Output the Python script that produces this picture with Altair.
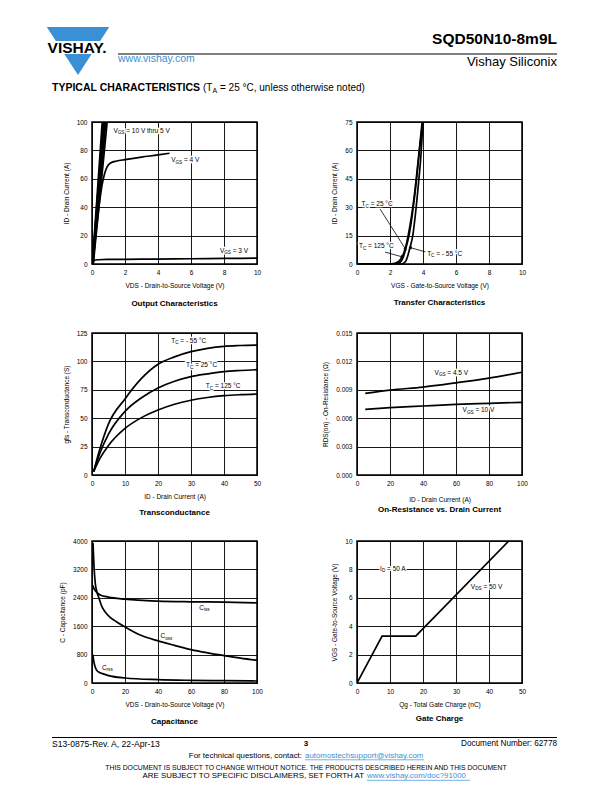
import math
import altair as alt
import pandas as pd

FONT = "Liberation Sans"
BLUE = "#3b8fd5"

# ---------------- values ----------------
# Output characteristics
out_hi_names = ["10 V", "9 V", "8 V", "7 V", "6 V", "5 V"]
out_hi_vds_start = [0.02, 0.03, 0.04, 0.05, 0.06, 0.08]
out_hi_vds_at_100a = [0.62, 0.67, 0.72, 0.78, 0.84, 0.92]
out_4v_vds = [0, 0.2, 0.4, 0.6, 0.75, 0.9, 1.1, 1.5, 2, 3, 4, 4.7]
out_4v_id = [0, 18, 38, 55, 63, 68, 71, 72.5, 73.5, 75.3, 76.8, 78]
out_3v_vds = [0, 0.1, 0.2, 0.4, 1, 2, 4, 6, 8, 10]
out_3v_id = [0, 2.0, 2.8, 3.0, 3.2, 3.3, 3.5, 3.7, 3.9, 4.1]
out_lab_base = ["V", "V", "V"]
out_lab_sub = ["GS", "GS", "GS"]
out_lab_rest = ["= 10 V thru 5 V", "= 4 V", "= 3 V"]
out_lab_x = [1.3, 4.8, 7.75]
out_lab_y = [93.5, 73, 9]

# Transfer characteristics
tr_125_vgs = [0, 1.9, 2.3, 2.55, 2.75, 2.95, 3.1, 3.3, 3.5, 3.7, 3.95]
tr_125_id = [0, 0, 0.4, 1.5, 4, 9, 15, 25, 38, 54, 75]
tr_25_vgs = [0, 2.35, 2.6, 2.8, 2.95, 3.15, 3.35, 3.55, 3.75, 3.97]
tr_25_id = [0, 0, 0.8, 3.5, 8, 15, 26, 40, 57, 75]
tr_m55_vgs = [0, 2.7, 2.95, 3.1, 3.22, 3.38, 3.55, 3.72, 3.88, 4.0]
tr_m55_id = [0, 0, 1.5, 5, 9, 15, 27, 42, 58, 75]
tr_lab_base = ["T", "T", "T"]
tr_lab_sub = ["C", "C", "C"]
tr_lab_rest = ["= 25 °C", "= 125 °C", "= - 55 °C"]
tr_lab_x = [0.28, 0.12, 4.25]
tr_lab_y = [31.5, 9.3, 5.3]
tr_arrow_x1 = [1.4, 1.7, 4.15]
tr_arrow_y1 = [29, 6.3, 6.4]
tr_arrow_x2 = [2.93, 2.72, 3.25]
tr_arrow_y2 = [8, 3.8, 8.6]

# Transconductance
gfs_id = [0.5, 2.5, 5, 10, 15, 20, 25, 30, 35, 40, 45, 50]
gfs_m55 = [3, 24, 45, 67, 85, 97.5, 104, 108.6, 111.5, 113.3, 114, 114.4]
gfs_25 = [3, 20, 36, 56, 68, 76.6, 82.5, 86.6, 89, 91, 92, 92.7]
gfs_125 = [3, 15, 26, 41, 50.5, 57.2, 62.3, 65.8, 68.2, 69.8, 70.7, 71.3]
gfs_lab_base = ["T", "T", "T"]
gfs_lab_sub = ["C", "C", "C"]
gfs_lab_rest = ["= - 55 °C", "= 25 °C", "= 125 °C"]
gfs_lab_x = [24, 28.5, 34.5]
gfs_lab_y = [118, 96.5, 78]

# On-resistance vs drain current
ron_id = [5, 20, 40, 60, 80, 100]
ron_45v = [0.00862, 0.00897, 0.00929, 0.00974, 0.01023, 0.01086]
ron_10v = [0.00694, 0.00711, 0.00729, 0.00746, 0.00757, 0.00768]
ron_lab_base = ["V", "V"]
ron_lab_sub = ["GS", "GS"]
ron_lab_rest = ["= 4.5 V", "= 10 V"]
ron_lab_x = [47, 64]
ron_lab_y = [0.01075, 0.00683]

# Capacitance
ciss_vds = [0.5, 1, 2, 5, 10, 20, 40, 60, 80, 100]
ciss_pf = [2750, 2680, 2600, 2480, 2420, 2362, 2306, 2287, 2278, 2259]
coss_vds = [0.6, 1.2, 2, 3, 4, 6, 8, 11, 15, 20, 30, 40, 50, 60, 70, 80, 90, 100]
coss_pf = [3950, 3300, 2800, 2560, 2420, 2150, 2000, 1850, 1720, 1580, 1336, 1186,
           1060, 941, 850, 772, 700, 640]
crss_vds = [0.5, 1.2, 2.6, 4, 6.7, 10, 20, 40, 60, 80, 100]
crss_pf = [800, 580, 380, 310, 260, 207, 141, 94, 75, 66, 56]
cap_lab_base = ["C", "C", "C"]
cap_lab_sub = ["iss", "oss", "rss"]
cap_lab_rest = ["", "", ""]
cap_lab_x = [65, 41.5, 6]
cap_lab_y = [2110, 1310, 420]

# Gate charge
qg_nc = [0, 7.6, 17.8, 46]
qg_vgs = [0, 3.3, 3.3, 10]
qg_lab_base = ["I", "V"]
qg_lab_sub = ["D", "DS"]
qg_lab_rest = ["= 50 A", "= 50 V"]
qg_lab_x = [7, 34.5]
qg_lab_y = [8.05, 6.75]

# ---------------- helpers ----------------
ONE = pd.DataFrame({"a": [0]})
LAB = 6.5
SUB = 4.6
CHAR_W = {" ": .278, "(": .333, ")": .333, "-": .333, ".": .278, "=": .584, "°": .4,
          "A": .667, "C": .722, "D": .722, "G": .778, "I": .278, "S": .667, "T": .611,
          "V": .667, "a": .556, "c": .5, "h": .556, "i": .222, "n": .556, "o": .556,
          "r": .333, "s": .5, "t": .278, "u": .556}


def tw(s, size):
    return sum(CHAR_W.get(c, .556) for c in s) * size


def series_df(named):
    rows = []
    for name, xs, ys in named:
        for x, y in zip(xs, ys):
            rows.append({"x": x, "y": y, "s": name})
    return pd.DataFrame(rows)


def X(field, dom, ticks, title, fmt="d"):
    return alt.X(f"{field}:Q", scale=alt.Scale(domain=dom, nice=False, zero=False),
                 axis=alt.Axis(values=ticks, title=title, format=fmt))


def Y(field, dom, ticks, title, fmt="d"):
    return alt.Y(f"{field}:Q", scale=alt.Scale(domain=dom, nice=False, zero=False),
                 axis=alt.Axis(values=ticks, title=title, format=fmt))


def curves(df, xe, ye, interp="monotone", sw=1.7):
    return alt.Chart(df).mark_line(color="black", strokeWidth=sw, interpolate=interp,
                                   clip=True).encode(x=xe, y=ye, detail="s:N", order="x:Q")


def labels(bases, subs, rests, xs, ys, xe, ye):
    """Annotation labels with a subscript part, e.g. V + GS + '= 4 V'."""
    layers = []
    for b, s, r, x, y in zip(bases, subs, rests, xs, ys):
        df = pd.DataFrame({"x": [x], "y": [y]})
        parts = [(b, LAB, 0, 0)]
        parts.append((s, SUB, tw(b, LAB), 2.2))
        if r:
            parts.append((r, LAB, tw(b, LAB) + tw(s, SUB) + tw(" ", LAB), 0))
        for txt, size, dx, dy in parts:
            layers.append(alt.Chart(df).mark_text(
                text=txt, align="left", baseline="middle", fontSize=size, font=FONT,
                dx=dx, dy=dy, color="white", stroke="white", strokeWidth=2.5).encode(x=xe, y=ye))
        for txt, size, dx, dy in parts:
            layers.append(alt.Chart(df).mark_text(
                text=txt, align="left", baseline="middle", fontSize=size, font=FONT,
                dx=dx, dy=dy, color="black").encode(x=xe, y=ye))
    return layers


def panel(layers, w, caption, offset):
    return alt.layer(*layers).properties(
        width=w, height=142,
        title=alt.TitleParams(caption, orient="bottom", anchor="middle", fontSize=8,
                              fontWeight="bold", font=FONT, offset=offset, color="black"))


def spacer(w, h):
    return alt.Chart(ONE).mark_point(opacity=0, size=1).encode(
        x=alt.value(3), y=alt.value(3)).properties(width=w, height=h,
                                                   view=alt.ViewBackground(stroke=None))


def t(s, x, y, size, weight="normal", align="left", color="black"):
    return alt.Chart(ONE).mark_text(text=s, fontSize=size, fontWeight=weight, align=align,
                                    baseline="middle", color=color, font=FONT).encode(
        x=alt.value(x), y=alt.value(y))


def hrule(x1, x2, y, color="black", w=1.0):
    return alt.Chart(ONE).mark_rule(color=color, strokeWidth=w).encode(
        x=alt.value(x1), x2=alt.value(x2), y=alt.value(y))


# ---------------- panel 1: output characteristics ----------------
d1 = [(n, [a, b], [0, 100]) for n, a, b in zip(out_hi_names, out_hi_vds_start, out_hi_vds_at_100a)]
d1 += [("4 V", out_4v_vds, out_4v_id), ("3 V", out_3v_vds, out_3v_id)]
x1 = X("x", [0, 10], [0, 2, 4, 6, 8, 10], "VDS - Drain-to-Source Voltage (V)")
y1 = Y("y", [0, 100], [0, 20, 40, 60, 80, 100], "ID - Drain Current (A)")
p1 = panel([curves(series_df(d1), x1, y1)]
           + labels(out_lab_base, out_lab_sub, out_lab_rest, out_lab_x, out_lab_y, x1, y1),
           165, "Output Characteristics", 11)

# ---------------- panel 2: transfer characteristics ----------------
d2 = [("125", tr_125_vgs, tr_125_id), ("25", tr_25_vgs, tr_25_id), ("-55", tr_m55_vgs, tr_m55_id)]
x2 = X("x", [0, 10], [0, 2, 4, 6, 8, 10], "VGS - Gate-to-Source Voltage (V)")
y2 = Y("y", [0, 75], [0, 15, 30, 45, 60, 75], "ID - Drain Current (A)")
pxu, pyu = 165 / 10, 142 / 75
arr = pd.DataFrame({"x1": tr_arrow_x1, "y1": tr_arrow_y1, "x2": tr_arrow_x2, "y2": tr_arrow_y2})
arr["ang"] = [(math.degrees(math.atan2((b - a) * pxu, (d - c) * pyu)) + 360) % 360
              for a, b, c, d in zip(arr.x1, arr.x2, arr.y1, arr.y2)]
xa = X("x1", [0, 10], [0, 2, 4, 6, 8, 10], "VGS - Gate-to-Source Voltage (V)")
ya = Y("y1", [0, 75], [0, 15, 30, 45, 60, 75], "ID - Drain Current (A)")
arrow_lines = alt.Chart(arr).mark_rule(color="black", strokeWidth=0.8).encode(
    x=xa, y=ya, x2="x2:Q", y2="y2:Q")
xh = X("x2", [0, 10], [0, 2, 4, 6, 8, 10], "VGS - Gate-to-Source Voltage (V)")
yh = Y("y2", [0, 75], [0, 15, 30, 45, 60, 75], "ID - Drain Current (A)")
arrow_heads = alt.Chart(arr).mark_point(shape="triangle", filled=True, size=14, color="black",
                                        opacity=1).encode(
    x=xh, y=yh, angle=alt.Angle("ang:Q", scale=None))
p2 = panel([curves(series_df(d2), x2, y2), arrow_lines, arrow_heads]
           + labels(tr_lab_base, tr_lab_sub, tr_lab_rest, tr_lab_x, tr_lab_y, x2, y2),
           165, "Transfer Characteristics", 10)

# ---------------- panel 3: transconductance ----------------
d3 = [("-55", gfs_id, gfs_m55), ("25", gfs_id, gfs_25), ("125", gfs_id, gfs_125)]
x3 = X("x", [0, 50], [0, 10, 20, 30, 40, 50], "ID - Drain Current (A)")
y3 = Y("y", [0, 125], [0, 25, 50, 75, 100, 125], "gfs - Transconductance (S)")
p3 = panel([curves(series_df(d3), x3, y3)]
           + labels(gfs_lab_base, gfs_lab_sub, gfs_lab_rest, gfs_lab_x, gfs_lab_y, x3, y3),
           165, "Transconductance", 9)

# ---------------- panel 4: on-resistance ----------------
d4 = [("4.5", ron_id, ron_45v), ("10", ron_id, ron_10v)]
x4 = alt.X("x:Q", scale=alt.Scale(domain=[0, 100], nice=False, zero=False),
           axis=alt.Axis(values=[0, 20, 40, 60, 80, 100], title="ID - Drain Current (A)",
                         format="d", titlePadding=10))
y4 = Y("y", [0, 0.015], [0, 0.003, 0.006, 0.009, 0.012, 0.015], "RDS(on) - On-Resistance (Ω)", ".3f")
p4 = panel([curves(series_df(d4), x4, y4)]
           + labels(ron_lab_base, ron_lab_sub, ron_lab_rest, ron_lab_x, ron_lab_y, x4, y4),
           165, "On-Resistance vs. Drain Current", 3)

# ---------------- panel 5: capacitance ----------------
d5 = [("Ciss", ciss_vds, ciss_pf), ("Coss", coss_vds, coss_pf), ("Crss", crss_vds, crss_pf)]
x5 = X("x", [0, 100], [0, 20, 40, 60, 80, 100], "VDS - Drain-to-Source Voltage (V)")
y5 = Y("y", [0, 4000], [0, 800, 1600, 2400, 3200, 4000], "C - Capacitance (pF)")
p5 = panel([curves(series_df(d5), x5, y5)]
           + labels(cap_lab_base, cap_lab_sub, cap_lab_rest, cap_lab_x, cap_lab_y, x5, y5),
           165, "Capacitance", 10)

# ---------------- panel 6: gate charge ----------------
d6 = [("qg", qg_nc, qg_vgs)]
x6 = X("x", [0, 50], [0, 10, 20, 30, 40, 50], "Qg - Total Gate Charge (nC)")
y6 = Y("y", [0, 10], [0, 2, 4, 6, 8, 10], "VGS - Gate-to-Source Voltage (V)")
p6 = panel([curves(series_df(d6), x6, y6, interp="linear")]
           + labels(qg_lab_base, qg_lab_sub, qg_lab_rest, qg_lab_x, qg_lab_y, x6, y6),
           165, "Gate Charge", 7)

# ---------------- header (drawn from the first grid cell) ----------------
logo_tri = alt.Chart(ONE).mark_point(shape="M-1,-0.77L1,-0.77L0,0.77Z", filled=True, size=3900,
                                     color=BLUE, opacity=1, strokeWidth=0).encode(
    x=alt.value(70), y=alt.value(43))
logo_band = alt.Chart(ONE).mark_rect(color="white").encode(
    x=alt.value(30), x2=alt.value(109), y=alt.value(33), y2=alt.value(46))
header = alt.layer(
    logo_tri, logo_band,
    t("VISHAY.", 69, 40, 15.5, "bold", "center"),
    t("SQD50N10-8m9L", 549, 31, 15.5, "bold", "right"),
    hrule(110, 549, 46, w=1.2),
    t("www.vishay.com", 110, 51, 10.5, color=BLUE),
    t("Vishay Siliconix", 549, 54, 13, align="right"),
    t("TYPICAL CHARACTERISTICS", 44, 80, 10.5, "bold"),
    t("(T", 195, 80, 10),
    t("A", 204.5, 82.5, 7),
    t("= 25 °C, unless otherwise noted)", 212, 80, 10),
).properties(width=84, height=114, view=alt.ViewBackground(stroke=None))

# ---------------- footer (drawn from the first grid cell) ----------------
footer = alt.layer(
    hrule(44, 549, 54.5, w=1.2),
    t("S13-0875-Rev. A, 22-Apr-13", 44, 61, 8.6),
    t("3", 298, 61, 8, "bold", "center"),
    t("Document Number: 62778", 549, 61, 8.2, align="right"),
    t("For technical questions, contact:", 294, 72.5, 7.9, align="right"),
    t("automostechsupport@vishay.com", 297, 72.5, 7.9, color=BLUE),
    hrule(297, 416, 76.8, color=BLUE, w=0.7),
    t("THIS DOCUMENT IS SUBJECT TO CHANGE WITHOUT NOTICE. THE PRODUCTS DESCRIBED HEREIN AND THIS DOCUMENT",
      298, 84.5, 6.8, align="center"),
    t("ARE SUBJECT TO SPECIFIC DISCLAIMERS, SET FORTH AT", 356, 93, 7.9, align="right"),
    t("www.vishay.com/doc?91000", 359, 93, 7.9, color=BLUE),
    hrule(359, 462, 97.3, color=BLUE, w=0.7),
).properties(width=84, height=101, view=alt.ViewBackground(stroke=None))

# ---------------- page grid: 4 columns (margin, left panel, gutter, right panel) ----------------
COLS = [84, 165, 100, 165]


def blank_row(h, first=None):
    cells = [first if first is not None else spacer(COLS[0], h)]
    cells += [spacer(w, h) for w in COLS[1:]]
    return cells


cells = []
cells += blank_row(114, header)
cells += [spacer(84, 142), p1, spacer(100, 142), p2]
cells += blank_row(69)
cells += [spacer(84, 142), p3, spacer(100, 142), p4]
cells += blank_row(66)
cells += [spacer(84, 142), p5, spacer(100, 142), p6]
cells += blank_row(101, footer)

chart = alt.concat(
    *cells, columns=4, spacing=0, bounds="flush", padding=0, background="white",
).configure_view(
    stroke="black", strokeWidth=1.5
).configure_axis(
    grid=True, gridColor="black", gridOpacity=1, gridWidth=0.9,
    domain=False, ticks=False,
    labelFont=FONT, labelFontSize=6.5, labelColor="black", labelPadding=5,
    labelFlush=False, labelOverlap=False,
    titleFont=FONT, titleFontSize=6.5, titleFontWeight="normal", titleColor="black",
    titlePadding=7,
).configure_text(font=FONT)

chart.save("out.html", embed_options={"renderer": "svg", "actions": False})
